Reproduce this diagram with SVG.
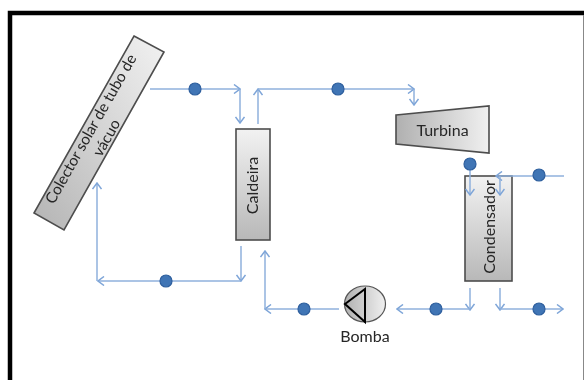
<svg xmlns="http://www.w3.org/2000/svg" width="584" height="380" viewBox="0 0 584 380">
<style>
.c{fill:none;stroke:#8fb0dc;stroke-width:1.5;marker-end:url(#a)}
.d{fill:#3f74b5;stroke:#2f5f9e;stroke-width:1.2}
.n{stroke:#4d4d4d;stroke-width:1.6}
text{font-family:Lato,"Noto Sans","Liberation Sans",sans-serif;fill:#262626;font-size:16px;text-anchor:middle}
</style>
<defs>
<marker id="a" viewBox="0 0 10 10" refX="9" refY="5" markerWidth="10" markerHeight="10" markerUnits="userSpaceOnUse" orient="auto"><path d="M3 0.5L9 5L3 9.5" fill="none" stroke="#7ea5d8" stroke-width="1.5"/></marker>
<linearGradient id="v" x1="0" y1="0" x2="0" y2="1"><stop offset="0" stop-color="#f2f2f2"/><stop offset="1" stop-color="#b8b8b8"/></linearGradient>
<linearGradient id="h" x1="0" y1="0" x2="1" y2="0"><stop offset="0" stop-color="#b0b0b0"/><stop offset="1" stop-color="#f0f0f0"/></linearGradient>
<linearGradient id="t" x1="1" y1="0" x2="0" y2="1"><stop offset="0" stop-color="#f2f2f2"/><stop offset="1" stop-color="#b4b4b4"/></linearGradient>
<filter id="b" x="-5%" y="-5%" width="110%" height="110%"><feGaussianBlur stdDeviation="0.45"/></filter>
</defs>
<rect width="584" height="380" fill="#fff"/>
<g filter="url(#b)">
<g id="frame" fill="none"><path d="M10 380V13H584" stroke="#000" stroke-width="4.5"/><path d="M583.500 15V380" stroke="#888" stroke-width="1"/></g>
<g id="collector"><path class="n" fill="url(#t)" d="M134 36L164 52L64 230L34 213Z"/>
<text transform="translate(98 133) rotate(-60.500)" style="font-size:15.300px"><tspan x="0" y="-3">Colector solar de tubo de</tspan><tspan x="0" y="15">vácuo</tspan></text></g>
<g id="caldeira"><rect class="n" fill="url(#v)" x="236" y="129" width="34" height="111"/>
<text transform="translate(258 185.500) rotate(-90)">Caldeira</text></g>
<g id="turbina"><path class="n" fill="url(#h)" d="M396 115L489 106V153L396 144Z"/>
<text x="442.500" y="136">Turbina</text></g>
<g id="condensador"><rect class="n" fill="url(#v)" x="465" y="176" width="47" height="105"/>
<text transform="translate(495 227) rotate(-90)">Condensador</text></g>
<g id="bomba"><ellipse cx="365" cy="304" rx="20.500" ry="18" fill="url(#h)" stroke="#555" stroke-width="1.2"/>
<path d="M345 304L365 289V322Z" fill="none" stroke="#000" stroke-width="2"/>
<text x="365" y="342">Bomba</text></g>
<g id="connectors">
<path class="c" d="M150 89H240"/><path class="c" d="M240 89V123"/>
<path class="c" d="M258 124V89"/><path class="c" d="M258 89H414"/><path class="c" d="M414 89V105"/>
<path class="c" d="M470 164V195"/><path class="c" d="M564 176H496"/><path class="c" d="M500 176V195"/>
<path class="c" d="M470 288V310"/><path class="c" d="M470 309H397"/>
<path class="c" d="M500 288V310"/><path class="c" d="M500 309H563"/>
<path class="c" d="M339 309H265"/><path class="c" d="M265 309V251"/>
<path class="c" d="M241 246V281"/><path class="c" d="M241 281H98"/><path class="c" d="M97 281V183"/>
<circle class="d" cx="195" cy="89" r="6"/><circle class="d" cx="338" cy="89" r="6"/>
<circle class="d" cx="470" cy="164" r="6"/><circle class="d" cx="539" cy="175" r="6"/>
<circle class="d" cx="436" cy="309" r="6"/><circle class="d" cx="539" cy="309" r="6"/>
<circle class="d" cx="304" cy="309" r="6"/><circle class="d" cx="166" cy="281" r="6"/>
</g>
</g>
</svg>
